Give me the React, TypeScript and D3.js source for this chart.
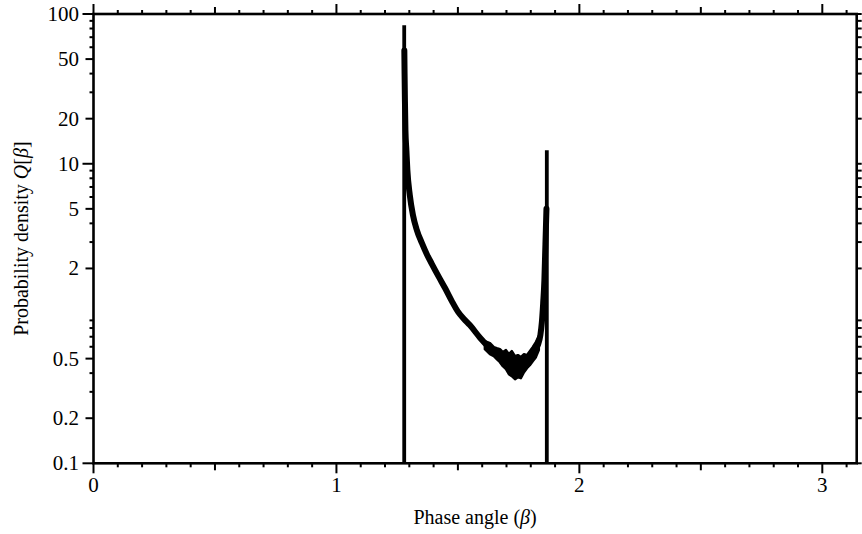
import React from "react";
import * as d3 from "d3";

// ---- data ----
const curveBeta = [1.2795, 1.2805, 1.282, 1.284, 1.288, 1.292, 1.302, 1.315, 1.331, 1.352, 1.372, 1.393, 1.422, 1.447, 1.475, 1.5, 1.525, 1.549, 1.591, 1.632, 1.652, 1.673, 1.694, 1.714, 1.735, 1.755, 1.776, 1.796, 1.817, 1.829, 1.8395, 1.8457, 1.851, 1.856, 1.859, 1.862, 1.8645];
const curveQ = [57, 40, 26, 16.8, 12.3, 9.07, 6.18, 4.54, 3.61, 2.95, 2.49, 2.14, 1.75, 1.48, 1.21, 1.03, 0.92, 0.837, 0.69, 0.585, 0.544, 0.515, 0.481, 0.452, 0.432, 0.44, 0.47, 0.5075, 0.565, 0.615, 0.718, 0.877, 1.174, 1.67, 2.46, 3.61, 5.0];

// noisy envelope of the histogram near the minimum
const noiseBeta = [1.611, 1.632, 1.648, 1.66, 1.673, 1.685, 1.698, 1.71, 1.722, 1.735, 1.747, 1.759, 1.772, 1.784, 1.796, 1.808, 1.821, 1.833];
const noiseHigh = [0.6541, 0.6343, 0.5965, 0.5874, 0.5784, 0.5524, 0.5696, 0.5356, 0.5609, 0.5194, 0.5275, 0.5115, 0.5356, 0.5275, 0.5609, 0.5965, 0.6441, 0.7063];
const noiseLow = [0.5784, 0.5356, 0.5194, 0.496, 0.4736, 0.4454, 0.4252, 0.3937, 0.3818, 0.3646, 0.376, 0.3702, 0.4061, 0.4318, 0.4523, 0.4809, 0.5115, 0.5696];

// the two singular spikes
const spikeBeta = [1.279, 1.866];
const spikePeak = [84, 12.3];

const xLabelTicks = [0, 1, 2, 3];
const xHalfTicks = [0.5, 1.5, 2.5];
const xMinorTicks = d3.range(0, 32).map((i) => i / 10);

const yDecadeTicks = [100, 10, 0.1];
const yLabelTicks = [100, 50, 20, 10, 5, 2, 0.5, 0.2, 0.1];
const yMinorTicks = [90, 80, 70, 60, 40, 30, 9, 8, 7, 6, 4, 3, 0.9, 0.8, 0.7, 0.6, 0.4, 0.3];

const W = 862;
const H = 534;
const L = 93.5, R = 856.7, T = 14, B = 463.3;
const FONT = "'Liberation Serif', 'Times New Roman', serif";

export default function App() {
  const x = d3.scaleLinear().domain([0, Math.PI]).range([L, R]);
  const y = d3.scaleLog().domain([0.1, 100]).range([B, T]);

  const line = d3
    .line<number>()
    .x((_, i) => x(curveBeta[i]))
    .y((_, i) => y(curveQ[i]))
    .curve(d3.curveMonotoneX);
  const band = d3
    .area<number>()
    .x((_, i) => x(noiseBeta[i]))
    .y0((_, i) => y(noiseLow[i]))
    .y1((_, i) => y(noiseHigh[i]));

  const xTick = (v: number) => {
    const isInt = Math.abs(v - Math.round(v)) < 1e-9;
    const isHalf = Math.abs(v * 2 - Math.round(v * 2)) < 1e-9;
    return isInt ? 10 : isHalf ? 7 : 4;
  };
  const allX = Array.from(new Set([...xMinorTicks, ...xHalfTicks, ...xLabelTicks]));
  const allY = [...yLabelTicks, ...yMinorTicks];
  const yLen = (v: number) =>
    yDecadeTicks.includes(v) ? 11 : yLabelTicks.includes(v) ? 8 : 4;

  return (
    <div style={{ position: "absolute", left: 0, top: 0 }}>
      <svg width={W} height={H} style={{ display: "block", background: "#fff" }}>
        {/* ticks */}
        <g stroke="#000" strokeWidth={2}>
          {allX.map((v) => (
            <g key={"x" + v}>
              <line x1={x(v)} x2={x(v)} y1={B} y2={B + xTick(v)} />
              <line x1={x(v)} x2={x(v)} y1={T} y2={T - xTick(v)} />
            </g>
          ))}
          {allY.map((v) => (
            <g key={"y" + v}>
              <line x1={L} x2={L - yLen(v)} y1={y(v)} y2={y(v)} />
              <line x1={R} x2={R + 5} y1={y(v)} y2={y(v)} />
            </g>
          ))}
        </g>

        {/* data */}
        <path d={band(noiseBeta) || ""} fill="#000" stroke="#000" strokeWidth={2.5} strokeLinejoin="round" />
        <path
          d={line(curveBeta) || ""}
          fill="none"
          stroke="#000"
          strokeWidth={6}
          strokeLinejoin="round"
          strokeLinecap="round"
        />
        {spikeBeta.map((b, i) => (
          <line
            key={"s" + i}
            x1={x(b)}
            x2={x(b)}
            y1={y(0.1)}
            y2={y(spikePeak[i])}
            stroke="#000"
            strokeWidth={3.8}
          />
        ))}

        {/* frame */}
        <rect x={L} y={T} width={R - L} height={B - T} fill="none" stroke="#000" strokeWidth={2.6} />

        {/* tick labels */}
        <g fontFamily={FONT} fontSize={21} fill="#000">
          {xLabelTicks.map((v) => (
            <text key={"xl" + v} x={x(v)} y={492} textAnchor="middle">
              {v}
            </text>
          ))}
          {yLabelTicks.map((v) => (
            <text key={"yl" + v} x={79} y={y(v) + 7} textAnchor="end">
              {v}
            </text>
          ))}
        </g>

        {/* axis titles */}
        <text x={(L + R) / 2} y={524} textAnchor="middle" fontFamily={FONT} fontSize={20}>
          Phase angle (<tspan fontStyle="italic">β</tspan>)
        </text>
        <text
          transform={`translate(28, ${(T + B) / 2}) rotate(-90)`}
          textAnchor="middle"
          fontFamily={FONT}
          fontSize={20}
        >
          Probability density <tspan fontStyle="italic">Q</tspan>[<tspan fontStyle="italic">β</tspan>]
        </text>
      </svg>
    </div>
  );
}
